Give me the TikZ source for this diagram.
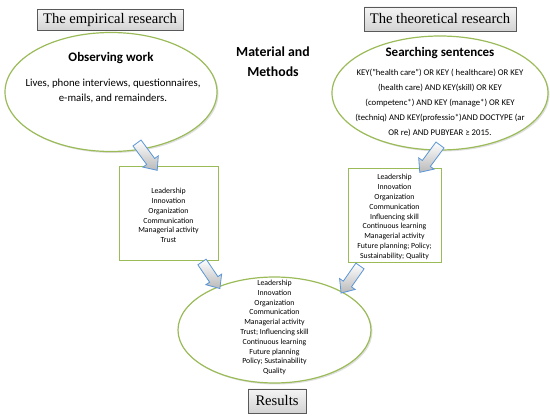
\documentclass[tikz,border=0pt]{standalone}
\usepackage{fontspec}
\setmainfont{Carlito}
\newfontfamily\timesfont{Liberation Serif}
\usetikzlibrary{shapes.geometric,shadows}
\definecolor{leafgreen}{RGB}{155,187,89}
\definecolor{arrowblue}{RGB}{90,150,215}
\tikzset{
  titlebox/.style={draw=gray!70!black,line width=0.9pt,top color=gray!8,bottom color=gray!35,
    drop shadow={shadow xshift=1pt,shadow yshift=-1pt,opacity=0.3},
    font=\timesfont\fontsize{14.6}{14.6}\selectfont,inner sep=0pt},
  oval/.style={ellipse,draw=leafgreen,line width=1.2pt,fill=white,
    drop shadow={shadow xshift=1.5pt,shadow yshift=-1.5pt,opacity=0.25}},
  listbox/.style={draw=leafgreen,line width=1pt,fill=white,inner sep=0pt},
  smalltext/.style={align=center,font=\fontsize{7.8}{9.8}\selectfont},
  blockarrow/.style={draw=arrowblue,line width=0.8pt,line join=miter,top color=white,bottom color=gray!55},
}
\begin{document}
\begin{tikzpicture}[x=1pt,y=-1pt]
\useasboundingbox (0,0) rectangle (550,417);
% headings
\node[titlebox,minimum width=146pt,minimum height=21pt] (empirical) at (110,20) {The empirical research};
\node[titlebox,minimum width=152pt,minimum height=24pt] (theoretical) at (440,19) {The theoretical research};
\node[align=center,font=\bfseries\fontsize{13.8}{20}\selectfont] (methods) at (273,62) {Material and\\Methods};
% upper ellipses
\node[oval,minimum width=212pt,minimum height=119pt] (observe) at (111,92) {};
\node[font=\bfseries\fontsize{13}{13}\selectfont] (obstitle) at (111,58) {Observing work};
\node[align=center,font=\fontsize{10.8}{15}\selectfont] (obstext) at (113,91) {Lives, phone interviews, questionnaires,\\e-mails, and remainders.};
\node[oval,minimum width=216pt,minimum height=114pt] (search) at (440,93) {};
\node[font=\bfseries\fontsize{13}{13}\selectfont] (searchtitle) at (440,53) {Searching sentences};
\node[align=center,font=\fontsize{8.7}{15.2}\selectfont] (searchtext) at (440,103)
  {KEY("health care") OR KEY ( healthcare) OR KEY\\(health care) AND KEY(skill) OR KEY\\(competenc*) AND KEY (manage*) OR KEY\\(techniq) AND KEY(professio*)AND DOCTYPE (ar\\OR re) AND PUBYEAR ≥ 2015.};
% lists
\node[listbox,minimum width=99pt,minimum height=94pt] (leftlist) at (168.5,214) {};
\node[smalltext] at (168.5,215.5) {Leadership\\Innovation\\Organization\\Communication\\Managerial activity\\Trust};
\node[listbox,minimum width=93pt,minimum height=94pt] (rightlist) at (394.5,216) {};
\node[smalltext] at (394.5,217) {Leadership\\Innovation\\Organization\\Communication\\Influencing skill\\Continuous learning\\Managerial activity\\Future planning; Policy;\\Sustainability; Quality};
% result
\node[oval,minimum width=193pt,minimum height=106pt] (merged) at (274.5,330) {};
\node[smalltext] at (274.5,327.5) {Leadership\\Innovation\\Organization\\Communication\\Managerial activity\\Trust; Influencing skill\\Continuous learning\\Future planning\\Policy; Sustainability\\Quality};
\node[titlebox,minimum width=58pt,minimum height=24pt] (results) at (277,401) {Results};
% block arrows
\coordinate (a1s) at (137,143);
\coordinate (a2s) at (202,262);
\coordinate (a3s) at (440,145);
\coordinate (a4s) at (360,266);
\foreach \p/\a/\l in {a1s/-53.5/34,a2s/-56/32,a3s/-126.5/34,a4s/-125/33}
  \draw[blockarrow,shift={(\p)},rotate=\a] (0,-5) -- (\l-11,-5) -- (\l-11,-9.5) -- (\l,0) -- (\l-11,9.5) -- (\l-11,5) -- (0,5) -- cycle;
\end{tikzpicture}
\end{document}
